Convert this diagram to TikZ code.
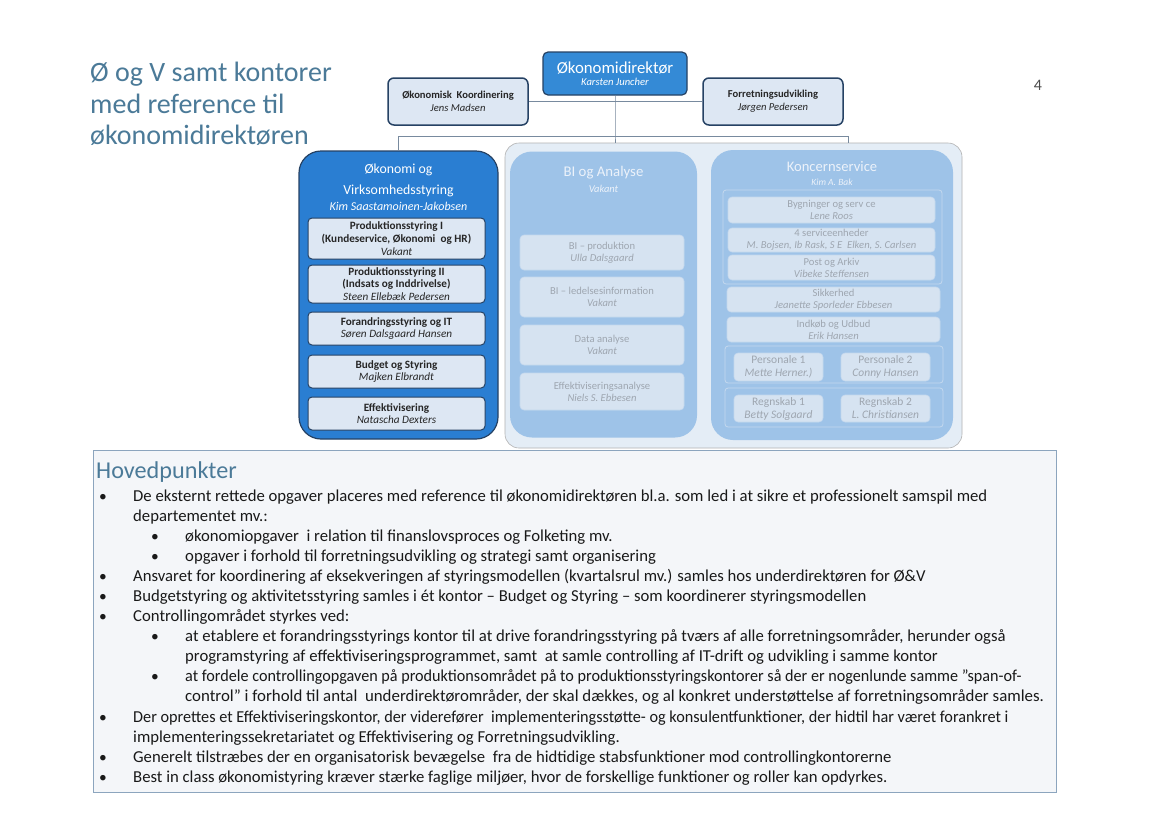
\documentclass[tikz,border=0pt]{standalone}
\usepackage{fontspec}
\usepackage{graphicx}
\setmainfont{Carlito}
\usetikzlibrary{positioning}
\definecolor{titleblue}{RGB}{75,122,152}
\definecolor{dirblue}{RGB}{52,138,214}
\definecolor{unitblue}{RGB}{42,126,210}
\definecolor{frameblue}{RGB}{38,66,100}
\definecolor{paleblue}{RGB}{221,231,243}
\definecolor{fadeblue}{RGB}{158,195,232}
\definecolor{fadesubc}{RGB}{214,227,241}
\definecolor{fadeline}{RGB}{196,216,238}
\definecolor{fadetext}{RGB}{158,166,176}
\definecolor{fadewhite}{RGB}{236,242,250}
\definecolor{groundblue}{RGB}{228,237,246}
\definecolor{notefill}{RGB}{244,246,249}
\definecolor{noteframe}{RGB}{140,165,190}
\definecolor{linegrey}{RGB}{120,138,158}

\begin{document}
\begin{tikzpicture}[x=1pt,y=-1pt,
  conn/.style={draw=linegrey, line width=0.8pt},
  dirbox/.style={draw=frameblue, fill=dirblue, line width=1.2pt, rounded corners=5pt, minimum width=144pt, minimum height=43pt, align=center, text=white, inner sep=0pt},
  staffbox/.style={draw=frameblue, fill=paleblue, line width=1.5pt, rounded corners=6pt, minimum width=140pt, minimum height=47pt, align=center, inner sep=0pt, font=\fontsize{10.6}{13}\selectfont, text=black!85},
  ground/.style={draw=black!30, fill=groundblue, line width=0.6pt, rounded corners=14pt},
  unitbox/.style={draw=frameblue, fill=unitblue, line width=1.2pt, rounded corners=22pt},
  fadecol/.style={fill=fadeblue, rounded corners=22pt},
  subbox/.style={draw=frameblue, fill=paleblue, line width=1pt, rounded corners=4pt, minimum width=177pt, align=center, inner sep=0pt, font=\fontsize{11.2}{12.6}\selectfont, text=black!85},
  fadesub/.style={draw=fadeline, fill=fadesubc, line width=0.6pt, rounded corners=4pt, align=center, inner sep=0pt, font=\fontsize{10.6}{12.2}\selectfont, text=fadetext},
  ksframe/.style={draw=fadeline, line width=0.8pt, rounded corners=3pt},
  unittl/.style={align=center, inner sep=0pt, text=white},
  fadetl/.style={align=center, inner sep=0pt, text=fadewhite},
  notebox/.style={draw=noteframe, fill=notefill, line width=1pt},
  txt/.style={anchor=base west, inner sep=0pt, font=\fontsize{16.7}{19}\selectfont, text=black!90},
  bul/.style={anchor=base, inner sep=0pt, font=\fontsize{15.5}{18}\selectfont, text=black!90}]
\useasboundingbox[fill=white] (0,0) rectangle (1170,828);

\node[anchor=north west, align=left, inner sep=0pt, text=titleblue, font=\fontsize{28}{31.5}\selectfont] (ttl) at (90,62) {Ø og V samt kontorer\\med reference til\\økonomidirektøren};
\node[inner sep=0pt, text=black!70, font=\fontsize{16}{18}\selectfont] (pg) at (1038,85) {4};

\node[ground, minimum width=457pt, minimum height=305pt] (grp) at (733.5,295.5) {};
\coordinate (jn) at (615,136);
\coordinate (kd) at (848,143);
\node[dirbox] (dir) at (615,73.5) {\fontsize{16.8}{18}\selectfont Økonomidirektør\\\fontsize{10.6}{12}\selectfont\itshape Karsten Juncher};
\node[staffbox] (koord) at (458,101.5) {\textbf{Økonomisk\ \ Koordinering}\\\textit{Jens Madsen}};
\node[staffbox] (forr) at (773,101.5) {\textbf{Forretningsudvikling}\\\textit{Jørgen Pedersen}};
\draw[conn] (koord) -- (forr);
\draw[conn] (dir) -- (jn) -- (grp.north -| jn);
\draw[conn] (jn) -| (kd);
\node[unitbox, minimum width=199pt, minimum height=288pt] (oev) at (398.5,295) {};
\draw[conn] (jn) -| (oev);

\node[unittl, font=\fontsize{13.8}{21}\selectfont] (oevt) at (398.5,180) {Økonomi og\\Virksomhedsstyring};
\node[unittl, font=\fontsize{12}{14}\selectfont\itshape] (oevn) at (398.5,206) {Kim Saastamoinen-Jakobsen};
\node[subbox, minimum height=41pt] (ps1) at (396.5,238.5) {\textbf{Produktionsstyring I}\\\textbf{(Kundeservice, Økonomi\ \ og HR)}\\\textit{Vakant}};
\node[subbox, minimum height=38pt] (ps2) at (396.5,284) {\textbf{Produktionsstyring II}\\\textbf{(Indsats og Inddrivelse)}\\\textit{Steen Ellebæk Pedersen}};
\node[subbox, minimum height=33pt] (fis) at (396.5,328.5) {\textbf{Forandringsstyring og IT}\\\textit{Søren Dalsgaard Hansen}};
\node[subbox, minimum height=33pt] (bus) at (396.5,371.5) {\textbf{Budget og Styring}\\\textit{Majken Elbrandt}};
\node[subbox, minimum height=33pt] (eff) at (396.5,413.5) {\textbf{Effektivisering}\\\textit{Natascha Dexters}};

\node[fadecol, minimum width=187pt, minimum height=286pt] (bia) at (603.5,294.5) {};
\node[fadetl, font=\fontsize{14.8}{17}\selectfont] (biat) at (603.5,173) {BI og Analyse};
\node[fadetl, font=\fontsize{10.5}{12}\selectfont\itshape] (bian) at (603.5,189) {Vakant};
\node[fadesub, minimum width=164pt, minimum height=35pt] (bip) at (602,252.5) {BI -- produktion\\\textit{Ulla Dalsgaard}};
\node[fadesub, minimum width=164pt, minimum height=40pt] (bil) at (602,297) {BI -- ledelsesinformation\\\textit{Vakant}};
\node[fadesub, minimum width=164pt, minimum height=40pt] (dat) at (602,345) {Data analyse\\\textit{Vakant}};
\node[fadesub, minimum width=164pt, minimum height=37pt] (efa) at (602,391.5) {Effektiviseringsanalyse\\\textit{Niels S. Ebbesen}};

\node[fadecol, minimum width=242pt, minimum height=290pt] (ks) at (832,295) {};
\node[fadetl, font=\fontsize{14.6}{17}\selectfont] (kst) at (832,167) {Koncernservice};
\node[fadetl, font=\fontsize{9.5}{11}\selectfont\itshape] (ksn) at (832,182) {Kim A. Bak};
\node[ksframe, minimum width=219pt, minimum height=94pt] (kf1) at (832.5,237) {};
\node[ksframe, minimum width=218pt, minimum height=37pt] (kf2) at (834,364.5) {};
\node[ksframe, minimum width=218pt, minimum height=39pt] (kf3) at (834,407.5) {};
\node[fadesub, minimum width=207pt, minimum height=26pt] (byg) at (831.5,210) {Bygninger og serv ce\\\textit{Lene Roos}};
\node[fadesub, minimum width=207pt, minimum height=24pt] (ser) at (831.5,240) {4 serviceenheder\\\textit{M. Bojsen, Ib Rask, S E\ \ Elken, S. Carlsen}};
\node[fadesub, minimum width=207pt, minimum height=25pt] (post) at (831.5,267.5) {Post og Arkiv\\\textit{Vibeke Steffensen}};
\node[fadesub, minimum width=213pt, minimum height=25pt] (sik) at (833.5,299.5) {Sikkerhed\\\textit{Jeanette Sporleder Ebbesen}};
\node[fadesub, minimum width=213pt, minimum height=25pt] (ind) at (833.5,329.5) {Indkøb og Udbud\\\textit{Erik Hansen}};
\node[fadesub, minimum width=89pt, minimum height=28pt, font=\fontsize{11.5}{13}\selectfont] (pe1) at (778.5,367) {Personale 1\\\textit{Mette Herner.)}};
\node[fadesub, minimum width=89pt, minimum height=28pt, font=\fontsize{11.5}{13}\selectfont] (pe2) at (885.5,367) {Personale 2\\\textit{Conny Hansen}};
\node[fadesub, minimum width=89pt, minimum height=27pt, font=\fontsize{11.5}{13}\selectfont] (re1) at (778.5,408.5) {Regnskab 1\\\textit{Betty Solgaard}};
\node[fadesub, minimum width=89pt, minimum height=27pt, font=\fontsize{11.5}{13}\selectfont] (re2) at (885.5,408.5) {Regnskab 2\\\textit{L. Christiansen}};

\node[notebox, minimum width=963pt, minimum height=342pt] (note) at (574.5,621) {};
\node[anchor=base west, inner sep=0pt, text=titleblue, font=\fontsize{24.2}{27}\selectfont] (hp) at (96,478) {Hovedpunkter};
\node[bul] (b1) at (103,501) {•};
\node[txt] (p1) at (133,501) {De eksternt rettede opgaver placeres med reference til økonomidirektøren bl.a. som led i at sikre et professionelt samspil med};
\node[txt] (p2) at (133,521) {departementet mv.:};
\node[bul] (b2) at (155,541) {•};
\node[txt] (p3) at (185,541) {økonomiopgaver\ \ i relation til finanslovsproces og Folketing mv.};
\node[bul] (b3) at (155,561) {•};
\node[txt] (p4) at (185,561) {opgaver i forhold til forretningsudvikling og strategi samt organisering};
\node[bul] (b4) at (103,581) {•};
\node[txt] (p5) at (133,581) {Ansvaret for koordinering af eksekveringen af styringsmodellen (kvartalsrul mv.) samles hos underdirektøren for Ø\&V};
\node[bul] (b5) at (103,601) {•};
\node[txt] (p6) at (133,601) {Budgetstyring og aktivitetsstyring samles i ét kontor -- Budget og Styring -- som koordinerer styringsmodellen};
\node[bul] (b6) at (103,621) {•};
\node[txt] (p7) at (133,621) {Controllingområdet styrkes ved:};
\node[bul] (b7) at (155,641) {•};
\node[txt] (p8) at (185,641) {at etablere et forandringsstyrings kontor til at drive forandringsstyring på tværs af alle forretningsområder, herunder også};
\node[txt] (p9) at (185,661) {programstyring af effektiviseringsprogrammet, samt\ \ at samle controlling af IT-drift og udvikling i samme kontor};
\node[bul] (b8) at (155,681) {•};
\node[txt] (p10) at (185,681) {\scalebox{0.968}[1]{at fordele controllingopgaven på produktionsområdet på to produktionsstyringskontorer så der er nogenlunde samme ”span-of-}};
\node[txt] (p11) at (185,701) {\scalebox{1.01}[1]{control” i forhold til antal\ \ underdirektørområder, der skal dækkes, og al konkret understøttelse af forretningsområder samles.}};
\node[bul] (b9) at (103,722) {•};
\node[txt] (p12) at (133,722) {\scalebox{0.972}[1]{Der oprettes et Effektiviseringskontor, der viderefører\ \ implementeringsstøtte- og konsulentfunktioner, der hidtil har været forankret i}};
\node[txt] (p13) at (133,742) {implementeringssekretariatet og Effektivisering og Forretningsudvikling.};
\node[bul] (b10) at (103,762) {•};
\node[txt] (p14) at (133,762) {Generelt tilstræbes der en organisatorisk bevægelse\ \ fra de hidtidige stabsfunktioner mod controllingkontorerne};
\node[bul] (b11) at (103,782) {•};
\node[txt] (p15) at (133,782) {Best in class økonomistyring kræver stærke faglige miljøer, hvor de forskellige funktioner og roller kan opdyrkes.};
\end{tikzpicture}
\end{document}
